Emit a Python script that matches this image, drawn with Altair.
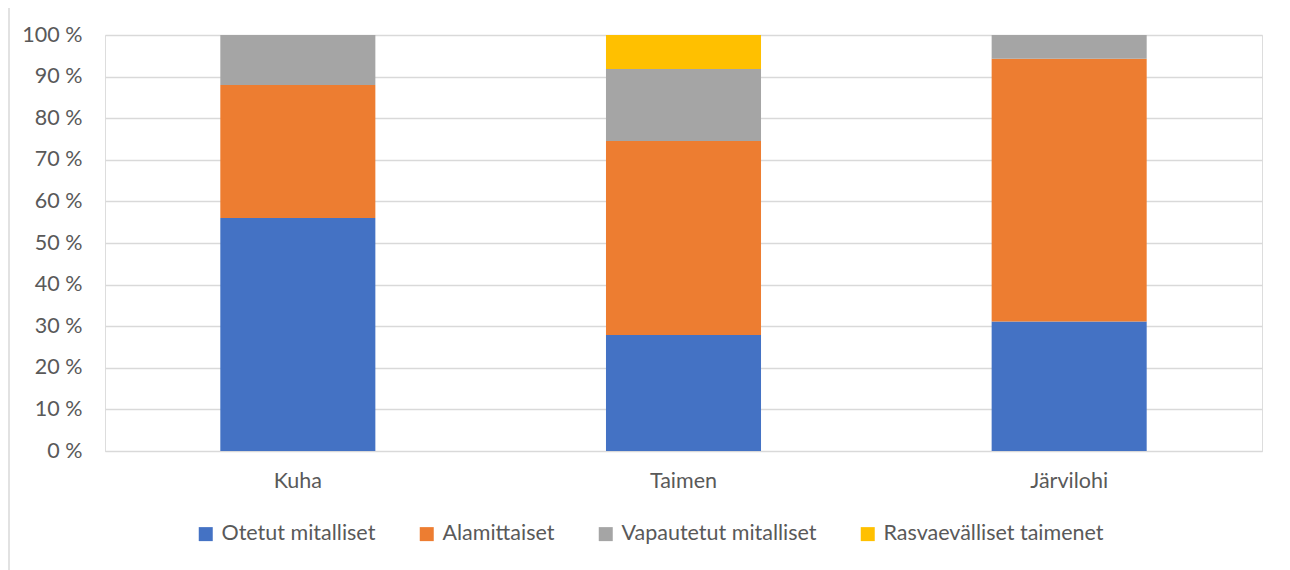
import altair as alt
import pandas as pd

categories = ["Kuha", "Taimen", "Järvilohi"]
series = ["Otetut mitalliset", "Alamittaiset", "Vapautetut mitalliset", "Rasvaevälliset taimenet"]
colors = ["#4472C4", "#ED7D31", "#A5A5A5", "#FFC000"]
otetut = [56.0, 27.9, 31.1]
alamittaiset = [32.0, 46.6, 63.2]
vapautetut = [12.0, 17.3, 5.7]
rasvaevalliset = [0.0, 8.2, 0.0]

values = [otetut, alamittaiset, vapautetut, rasvaevalliset]
rows = []
for si, s in enumerate(series):
    for ci, c in enumerate(categories):
        rows.append({"cat": c, "series": s, "value": values[si][ci], "order": si})
df = pd.DataFrame(rows)

font = "Lato"
fs = 21.5
bars = alt.Chart(df).mark_bar().encode(
    x=alt.X("cat:N", sort=categories, title=None,
            scale=alt.Scale(paddingInner=0.598, paddingOuter=0.299),
            axis=alt.Axis(labelAngle=0, ticks=False, domain=True, domainColor="#d9d9d9",
                          labelFontSize=fs, labelColor="#595959", labelFont=font, labelPadding=19)),
    y=alt.Y("value:Q", stack=True, title=None,
            scale=alt.Scale(domain=[0, 100]),
            axis=alt.Axis(values=list(range(0, 101, 10)), labelExpr="datum.value + ' %'",
                          ticks=False, domain=False, gridColor="#d9d9d9", gridWidth=1.3,
                          labelFontSize=fs, labelColor="#595959", labelFont=font, labelPadding=23)),
    color=alt.Color("series:N", sort=series,
                    scale=alt.Scale(domain=series, range=colors),
                    legend=alt.Legend(title=None, orient="none", direction="horizontal",
                                      legendX=90, legendY=488, symbolType="square",
                                      symbolSize=196, symbolStrokeWidth=0, labelFontSize=fs,
                                      labelColor="#595959", labelFont=font, columnPadding=40,
                                      labelOffset=5, labelLimit=0)),
    order=alt.Order("order:Q", sort="ascending"),
)

frame = alt.Chart(pd.DataFrame({"a": [0]})).mark_rule(color="#d9d9d9", strokeWidth=1.5).encode(
    x=alt.value(-96), y=alt.value(-27), y2=alt.value(545)
)

chart = alt.layer(bars, frame).properties(
    width=1157, height=416,
    autosize=alt.AutoSizeParams(type="none"),
    padding={"left": 97, "top": 27, "right": 20, "bottom": 120},
).configure_view(stroke=None).configure(background="white")

chart.save("out.html", embed_options={"renderer": "svg", "actions": False})
